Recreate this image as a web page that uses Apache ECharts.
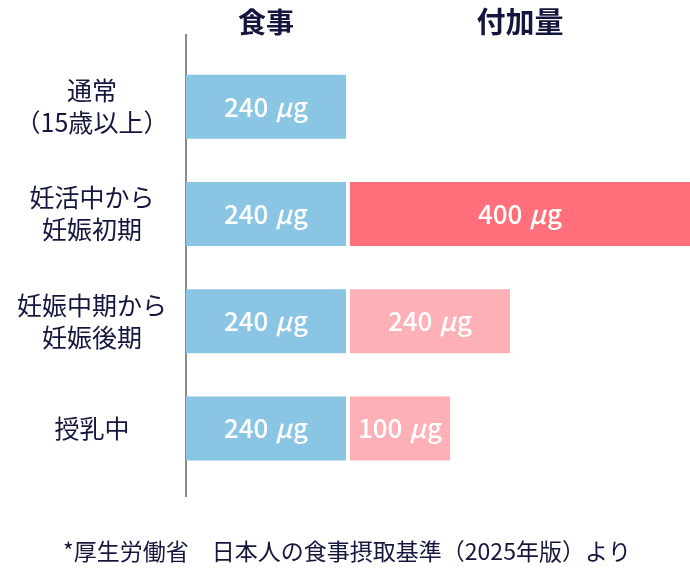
<!DOCTYPE html>
<html><head><meta charset="utf-8">
<script src="https://cdn.jsdelivr.net/npm/echarts@6/dist/echarts.min.js"></script>
<style>html,body{margin:0;padding:0;background:#fff}#c{width:690px;height:582px}</style>
</head><body><div id="c"></div>
<script>
// categories
const categories = ['通常\n（15歳以上）', '妊活中から\n妊娠初期', '妊娠中期から\n妊娠後期', '授乳中'];
// values (µg) shown as labels
const foodValues = [240, 240, 240, 240];
const addValues = [0, 400, 240, 100];
// bar lengths as drawn in the picture (not proportional to µg)
const foodLength = [160, 160, 160, 160];
const addLength = [0, 340, 160, 100];
const headers = ['食事', '付加量'];
const note = '*厚生労働省　日本人の食事摂取基準（2025年版）より';

const navy = '#15163d';
const font = '"Noto Sans CJK JP", "Noto Sans", sans-serif';
const addColors = ['#ff707c', '#ff707c', '#fdb0b5', '#fdb0b5'];

const labelRich = {
  n: { color: '#fff', fontSize: 26, fontWeight: 500, fontFamily: font },
  u: { color: '#fff', fontSize: 26, fontWeight: 500, fontStyle: 'italic', fontFamily: font, padding: [0, 0, 0, 7] },
  g: { color: '#fff', fontSize: 26, fontWeight: 500, fontFamily: font, padding: [0, 0, 0, 1] }
};
function fmt(v) { return '{n|' + v + '}{u|µ}{g|g}'; }

const chart = echarts.init(document.getElementById('c'), null, { renderer: 'canvas' });
chart.setOption({
  animation: false,
  grid: { left: 186, right: 0, top: 53, bottom: 100 },
  xAxis: { type: 'value', min: 0, max: 504, show: false },
  yAxis: {
    type: 'category', data: categories, inverse: true,
    axisLine: { show: false }, axisTick: { show: false },
    axisLabel: { margin: 94, align: 'center', color: navy, fontSize: 25, lineHeight: 32, fontFamily: font }
  },
  series: [
    {
      type: 'bar', stack: 's', barWidth: 64, name: headers[0],
      data: foodLength.map((l, i) => ({ value: l, raw: foodValues[i] })),
      itemStyle: { color: '#8ac5e4' },
      label: { show: true, position: 'inside', formatter: p => fmt(p.data.raw), rich: labelRich }
    },
    {
      type: 'bar', stack: 's', barWidth: 64, silent: true,
      data: addLength.map(l => l > 0 ? 4 : 0),
      itemStyle: { color: 'rgba(0,0,0,0)' }
    },
    {
      type: 'bar', stack: 's', barWidth: 64, name: headers[1],
      data: addLength.map((l, i) => ({ value: l, raw: addValues[i], itemStyle: { color: addColors[i] } })),
      label: { show: true, position: 'inside', formatter: p => p.data.raw > 0 ? fmt(p.data.raw) : '', rich: labelRich }
    }
  ],
  graphic: [
    { type: 'line', shape: { x1: 186, y1: 34, x2: 186, y2: 497 }, style: { stroke: '#8c8c8c', lineWidth: 2 } },
    { type: 'text', x: 266, y: 22, style: { text: headers[0], font: 'bold 28px ' + font, fill: navy, align: 'center', verticalAlign: 'middle' } },
    { type: 'text', x: 520, y: 22, style: { text: headers[1], font: 'bold 29px ' + font, fill: navy, align: 'center', verticalAlign: 'middle' } },
    { type: 'text', x: 347, y: 551, style: { text: note, font: '23px ' + font, fill: navy, align: 'center', verticalAlign: 'middle' } }
  ]
});
</script></body></html>
